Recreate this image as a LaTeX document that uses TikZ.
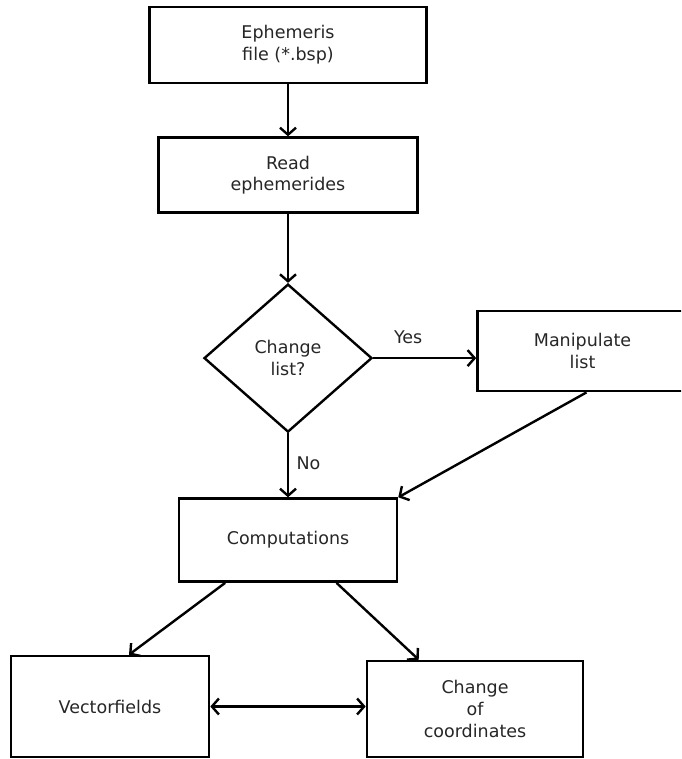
\documentclass[tikz,border=0pt]{standalone}
\usepackage{fontspec}
\setmainfont{DejaVu Sans}
\usepackage{tikz}
\usetikzlibrary{arrows.meta,positioning,calc,shapes.geometric}
\definecolor{inkgray}{RGB}{38,38,38}
\tikzset{
  procbox/.style={draw=black, line width=2.6pt, inner sep=0pt, align=center,
    text=inkgray, font=\fontsize{17.5}{21.7}\selectfont},
  decision/.style={diamond, draw=black, line width=2.4pt, inner sep=0pt, aspect=1.135,
    minimum width=168pt, minimum height=148pt, align=center,
    text=inkgray, font=\fontsize{17.5}{21.7}\selectfont},
  flowlabel/.style={text=inkgray, font=\fontsize{17.5}{21.7}\selectfont},
  flow/.style={-{Straight Barb[length=7pt,width=16pt]}, line width=2.4pt},
  twoflow/.style={{Straight Barb[length=7pt,width=16pt]}-{Straight Barb[length=7pt,width=16pt]}, line width=2.4pt}
}

\begin{document}
\begin{tikzpicture}[x=1pt, y=-1pt]
\clip (0,0) rectangle (681,759);
\node[procbox, minimum width=277pt, minimum height=76pt] (eph) at (288,45) {Ephemeris\\file (*.bsp)};
\node[procbox, minimum width=259pt, minimum height=75pt, below=52pt of eph] (read) {Read\\ephemerides};
\node[decision, below=69pt of read] (dec) {Change\\list?};
\node[procbox, minimum width=210pt, minimum height=80pt, right=103pt of dec, yshift=7pt] (manip) {Manipulate\\list};
\node[procbox, minimum width=218pt, minimum height=83pt, below=64pt of dec] (comp) {Computations};
\node[procbox, minimum width=198pt, minimum height=101pt] (vec) at (110,706.5) {Vectorfields};
\node[procbox, minimum width=216pt, minimum height=96pt] (coord) at (475,709) {Change\\of\\coordinates};

\draw[flow] (eph)--(read);
\draw[flow] (read)--(dec);
\draw[flow] (dec.east)--(dec.east -| manip.west) node[flowlabel, above=10pt, pos=.34] {Yes};
\draw[flow] (dec.south)--(comp.north) node[flowlabel, right=4pt, pos=.47] {No};
\draw[flow] ($(manip.south)+(4,0)$)--(comp.north east);
\draw[flow] ($(comp.south west)!.215!(comp.south east)$)--($(vec.north)+(19,0)$);
\draw[flow] ($(comp.south west)!.72!(comp.south east)$)--($(coord.north west)+(53,0)$);
\draw[twoflow] (vec.east)--(vec.east -| coord.west);
\end{tikzpicture}
\end{document}
